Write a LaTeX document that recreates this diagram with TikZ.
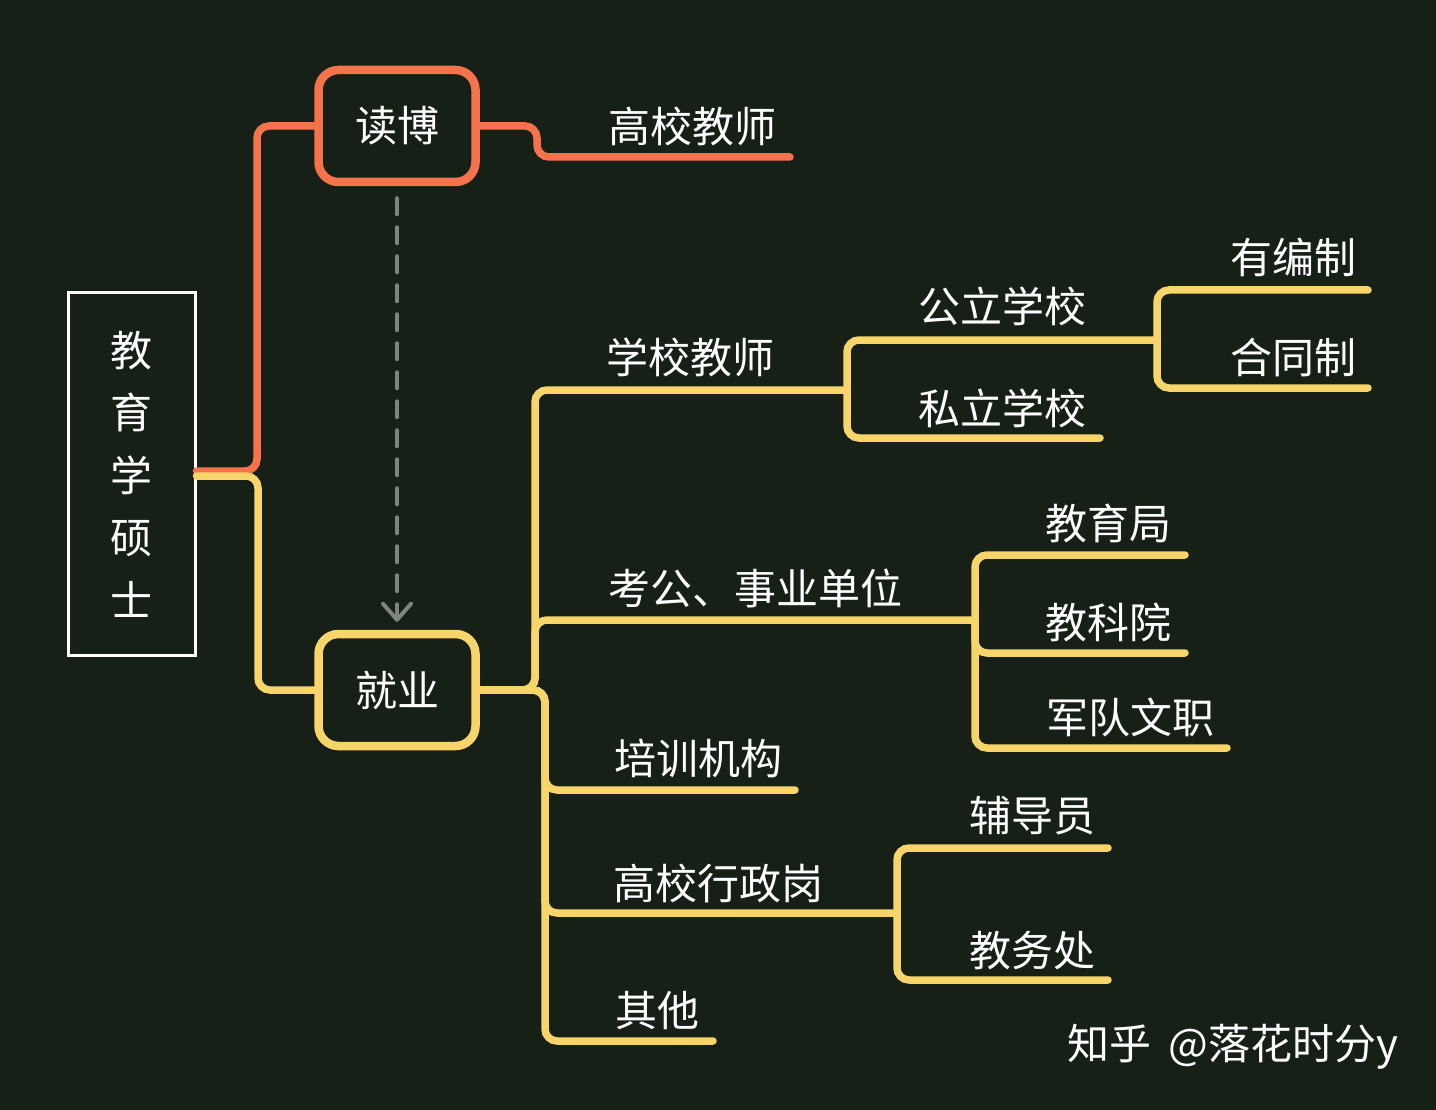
\documentclass[tikz,border=0pt]{standalone}
\usepackage{fontspec}
\setmainfont{Noto Sans CJK SC}
\usetikzlibrary{arrows.meta}
\definecolor{bg}{HTML}{162017}
\definecolor{org}{HTML}{F5734A}
\definecolor{ylw}{HTML}{F7D56A}
\definecolor{dgray}{HTML}{7E8480}
\begin{document}
\begin{tikzpicture}[x=1pt,y=-1pt,
  lbl/.style={text=white, font=\fontsize{42}{50}\selectfont, text height=37pt, text depth=5pt, inner sep=0pt},
  yl/.style={draw=ylw, line width=7.5pt, rounded corners=12pt, line cap=round},
  ol/.style={draw=org, line width=7.5pt, rounded corners=12pt, line cap=round},
  hub/.style={rounded corners=20pt, line width=8.5pt, fill=bg, minimum width=157pt, minimum height=112pt, text=white, font=\fontsize{42}{50}\selectfont, text height=37pt, text depth=5pt, inner sep=0pt}
]
\fill[bg] (0,0) rectangle (1436,1110);
\useasboundingbox (0,0) rectangle (1436,1110);

% nodes
\node[draw=white, line width=3pt, minimum width=127pt, minimum height=362pt, inner sep=0pt, align=center, text=white, font=\fontsize{42}{62.5}\selectfont] (root) at (131.5,474) {教\\育\\学\\硕\\士};
\node[hub, draw=org] (dubo) at (397,126) {读博};
\node[hub, draw=ylw] (jiuye) at (397,690) {就业};

% coordinates
\coordinate (ob) at (257,471);
\coordinate (yb) at (258,476);
\coordinate (d1) at (537,157);
\coordinate (e_gxjs) at (790,157);
\coordinate (ju) at (535,390);
\coordinate (e_xxjs) at (847,390);
\coordinate (kg) at (535,620);
\coordinate (e_kg) at (975,620);
\coordinate (px) at (545,790);
\coordinate (e_px) at (795,790);
\coordinate (gx) at (545,913);
\coordinate (e_gx) at (897,913);
\coordinate (jd) at (545,1041);
\coordinate (e_qt) at (713,1041);
\coordinate (g1) at (1157,340);
\coordinate (e_sl) at (1100,438);
\coordinate (e_ybz) at (1368,290);
\coordinate (e_htz) at (1368,388);
\coordinate (e_jyj) at (1185,555);
\coordinate (e_jky) at (1185,653);
\coordinate (e_jdwz) at (1227,748);
\coordinate (e_fdy) at (1108,848);
\coordinate (e_jwc) at (1108,980);

% connectors
\draw[ol] (root.east |- ob) -- (ob) |- (dubo.west);
\draw[yl] (root.east |- yb) -- (yb) |- (jiuye.west);
\draw[ol] (dubo.east) -| (d1) -- (e_gxjs);

\draw[yl] (jiuye.east) -| (ju) -- (e_xxjs);
\draw[yl] (jiuye.east) -| (kg) -- (e_kg);
\draw[yl] (jiuye.east) -| (jd) -- (e_qt);
\draw[yl] (jiuye.east) -| (px) -- (e_px);
\draw[yl] (jiuye.east) -| (gx) -- (e_gx);

\draw[yl] (e_xxjs) |- (g1);
\draw[yl] (e_xxjs) |- (e_sl);
\draw[yl] (g1) |- (e_ybz);
\draw[yl] (g1) |- (e_htz);

\draw[yl] (e_kg) |- (e_jyj);
\draw[yl] (e_kg) |- (e_jky);
\draw[yl] (e_kg) |- (e_jdwz);

\draw[yl] (e_gx) |- (e_fdy);
\draw[yl] (e_gx) |- (e_jwc);

\draw[dgray, line width=4pt, line cap=round, dash pattern=on 16pt off 13pt, -{Straight Barb[length=16pt,width=28pt,round]}, shorten <=12pt, shorten >=8pt] (dubo.south) -- (jiuye.north);

% labels
\node[lbl] (l_gxjs) at (692,127) {高校教师};
\node[lbl] (l_xxjs) at (690,357) {学校教师};
\node[lbl] (l_gl) at (1002,307) {公立学校};
\node[lbl] (l_sl) at (1002,408) {私立学校};
\node[lbl] (l_ybz) at (1293,258) {有编制};
\node[lbl] (l_htz) at (1293,357) {合同制};
\node[lbl] (l_kg) at (755,588) {考公、事业单位};
\node[lbl] (l_jyj) at (1108,523) {教育局};
\node[lbl] (l_jky) at (1108,622) {教科院};
\node[lbl] (l_jdwz) at (1130,717) {军队文职};
\node[lbl] (l_px) at (698,758) {培训机构};
\node[lbl] (l_gx) at (718,883) {高校行政岗};
\node[lbl] (l_fdy) at (1032,815) {辅导员};
\node[lbl] (l_jwc) at (1032,950) {教务处};
\node[lbl] (l_qt) at (657,1010) {其他};

\node[text=white, font=\fontsize{42}{50}\selectfont, inner sep=0pt, text height=37pt, text depth=5pt] (wm) at (1233,1043) {知乎\hspace{8pt} @落花时分y};
\end{tikzpicture}
\end{document}
